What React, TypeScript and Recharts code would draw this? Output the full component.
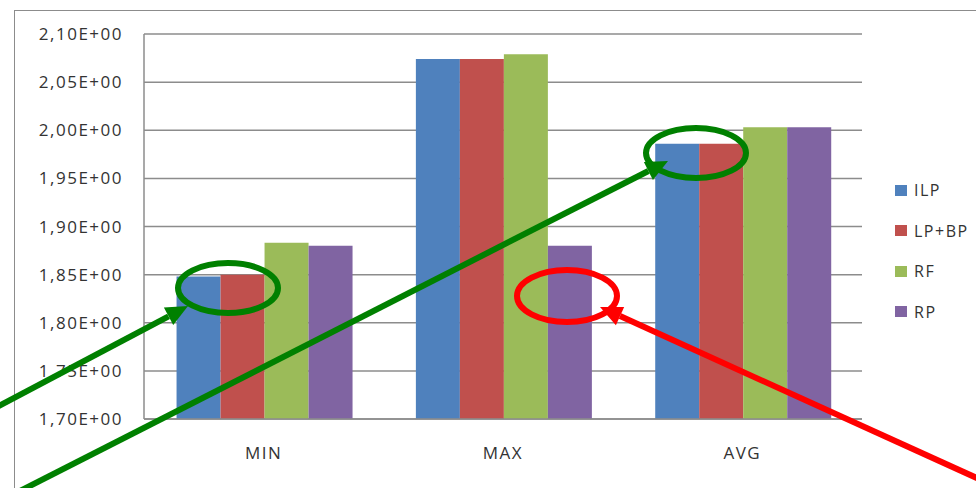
import { BarChart, Bar, XAxis, YAxis, CartesianGrid, Legend } from 'recharts'

const categories = ['MIN', 'MAX', 'AVG']
const ilp = [1.848, 2.074, 1.986]
const lpbp = [1.850, 2.074, 1.986]
const rf = [1.883, 2.079, 2.003]
const rp = [1.880, 1.880, 2.003]
const yTicks = [1.7, 1.75, 1.8, 1.85, 1.9, 1.95, 2.0, 2.05, 2.1]

const series = [
  { key: 'ILP', color: '#4F81BD' },
  { key: 'LP+BP', color: '#C0504D' },
  { key: 'RF', color: '#9BBB59' },
  { key: 'RP', color: '#8064A2' },
]

const data = categories.map((c, i) => ({ name: c, ILP: ilp[i], 'LP+BP': lpbp[i], RF: rf[i], RP: rp[i] }))

const font = '"Open Sans", sans-serif'
const fmt = (v: number) => v.toFixed(2).replace('.', ',') + 'E+00'
const tickStyle = { fontSize: 17, fill: '#333', fontFamily: font, letterSpacing: 1.5 }

function LegendBox() {
  return (
    <div style={{ position: 'absolute', left: 895, top: 170, fontFamily: font, fontSize: 16, letterSpacing: 1.5, color: '#333' }}>
      {series.map(s => (
        <div key={s.key} style={{ display: 'flex', alignItems: 'center', height: 40.5 }}>
          <span style={{ width: 12, height: 11, background: s.color, marginRight: 7, display: 'inline-block' }} />
          {s.key}
        </div>
      ))}
    </div>
  )
}

// arrow shaft plus filled head ending at (x2, y2)
function Arrow({ x1, y1, x2, y2, color }: { x1: number; y1: number; x2: number; y2: number; color: string }) {
  const a = Math.atan2(y2 - y1, x2 - x1)
  const len = 22, half = 10
  const bx = x2 - len * Math.cos(a), by = y2 - len * Math.sin(a)
  const px = -Math.sin(a) * half, py = Math.cos(a) * half
  return (
    <g>
      <line x1={x1} y1={y1} x2={bx} y2={by} stroke={color} strokeWidth={6} />
      <polygon points={`${x2},${y2} ${bx + px},${by + py} ${bx - px},${by - py}`} fill={color} />
    </g>
  )
}

export default function App() {
  return (
    <div style={{ position: 'absolute', left: 0, top: 0, width: 976, height: 488, overflow: 'hidden', background: '#fff' }}>
      <div style={{ position: 'absolute', left: 14, top: 10, width: 1000, height: 500, border: '1.5px solid #8c8c8c' }} />
      <div style={{ position: 'absolute', left: 0, top: 0 }}>
        <BarChart width={976} height={488} data={data} margin={{ top: 34, right: 114, bottom: 39, left: 0 }}
          barCategoryGap="13.6%" barGap={0}>
          <CartesianGrid vertical={false} stroke="#8c8c8c" strokeWidth={1.5} />
          <XAxis dataKey="name" height={30} tickSize={0} tickMargin={28} axisLine={{ stroke: '#8c8c8c', strokeWidth: 1.5 }}
            tick={tickStyle} />
          <YAxis width={144} domain={[1.7, 2.1]} ticks={yTicks} tickFormatter={fmt} tickSize={0} tickMargin={21}
            axisLine={{ stroke: '#8c8c8c', strokeWidth: 1.5 }} allowDataOverflow tick={tickStyle} />
          <Legend content={() => null} />
          {series.map(s => (
            <Bar key={s.key} dataKey={s.key} fill={s.color} isAnimationActive={false} />
          ))}
        </BarChart>
      </div>
      <LegendBox />
      <svg width={976} height={488} style={{ position: 'absolute', left: 0, top: 0 }}>
        <ellipse cx={228} cy={288} rx={50} ry={25} fill="none" stroke="#008000" strokeWidth={6} />
        <ellipse cx={696} cy={153} rx={50} ry={25} fill="none" stroke="#008000" strokeWidth={6} />
        <ellipse cx={567} cy={296} rx={50} ry={26} fill="none" stroke="#ff0000" strokeWidth={6} />
        <Arrow x1={-5} y1={408} x2={188} y2={306} color="#008000" />
        <Arrow x1={18} y1={492} x2={668} y2={161} color="#008000" />
        <Arrow x1={990} y1={484} x2={600} y2={307} color="#ff0000" />
      </svg>
    </div>
  )
}
